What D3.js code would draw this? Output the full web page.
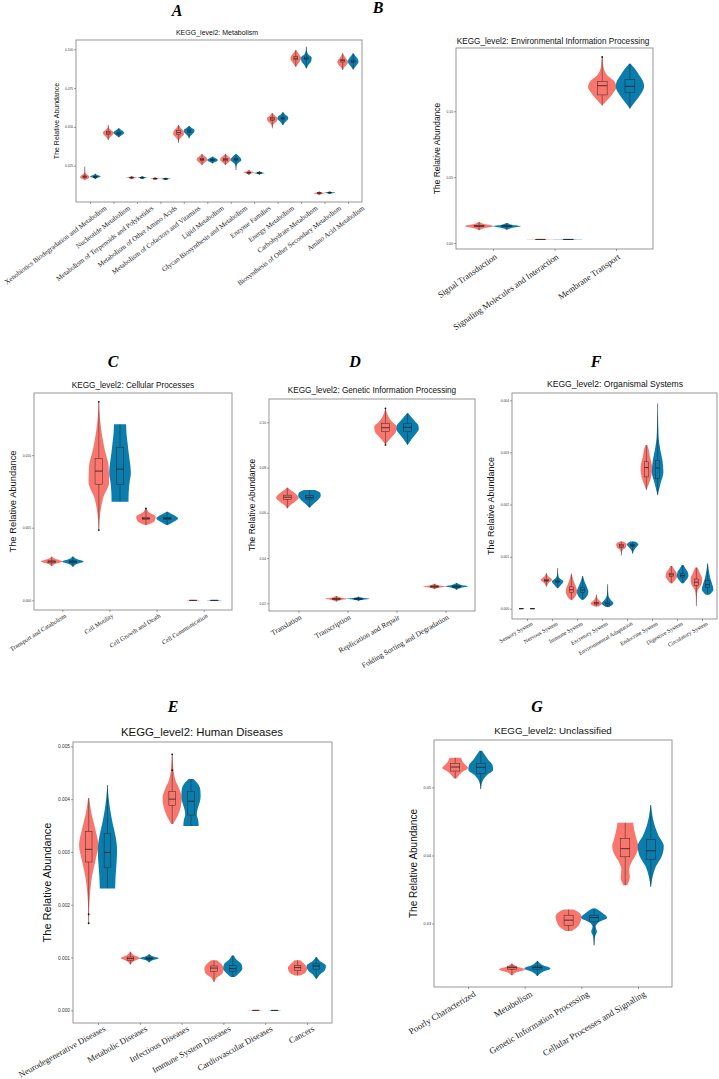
<!DOCTYPE html>
<html>
<head>
<meta charset="utf-8">
<script src="https://cdn.jsdelivr.net/npm/d3@7"></script>
<style>
body { margin: 0; background: #fff; }
svg { display: block; }
</style>
</head>
<body>
<svg id="fig" width="719" height="1079"></svg>
<script>
// violin colours (two groups)
const RED = '#F8766D', BLUE = '#0A7DAD';

// generic width profiles for the small violins (bottom -> top)
const DIAMOND = [0.03, 0.35, 1, 0.35, 0.03];
const FLAT = [0.05, 0.6, 1, 0.6, 0.05];
const ROUND = [0.05, 0.4, 0.8, 1, 0.8, 0.4, 0.05];

// each violin: [min, q1, median, q3, max]

// ---- A: Metabolism ----
const aCats = ['Xenobiotics Biodegradation and Metabolism', 'Nucleotide Metabolism',
  'Metabolism of Terpenoids and Polyketides', 'Metabolism of Other Amino Acids',
  'Metabolism of Cofactors and Vitamins', 'Lipid Metabolism', 'Glycan Biosynthesis and Metabolism',
  'Enzyme Families', 'Energy Metabolism', 'Carbohydrate Metabolism',
  'Biosynthesis of Other Secondary Metabolism', 'Amino Acid Metabolism'];
const aTicks = [0.025, 0.05, 0.075, 0.1];
const aTickLabels = ['0.025', '0.050', '0.075', '0.100'];
const aDomain = [0.0016, 0.106];
const aRed = [[0.0160, 0.0174, 0.0179, 0.0184, 0.0244], [0.0416, 0.0450, 0.0461, 0.0471, 0.0512],
  [0.0164, 0.0170, 0.0173, 0.0176, 0.0184], [0.0159, 0.0164, 0.0167, 0.0169, 0.0175],
  [0.0398, 0.0450, 0.0463, 0.0477, 0.0512], [0.0255, 0.0283, 0.0289, 0.0295, 0.0326],
  [0.0255, 0.0281, 0.0289, 0.0296, 0.0326], [0.0190, 0.0201, 0.0205, 0.0208, 0.0222],
  [0.0491, 0.0543, 0.0551, 0.0559, 0.0588], [0.0888, 0.0932, 0.0942, 0.0952, 0.0996],
  [0.0061, 0.0072, 0.0074, 0.0076, 0.0084], [0.0867, 0.0918, 0.0927, 0.0936, 0.0974]];
const aBlue = [[0.0164, 0.0175, 0.0178, 0.0182, 0.0198], [0.0433, 0.0452, 0.0459, 0.0466, 0.0491],
  [0.0165, 0.0170, 0.0173, 0.0176, 0.0182], [0.0159, 0.0163, 0.0165, 0.0167, 0.0172],
  [0.0427, 0.0465, 0.0474, 0.0481, 0.0506], [0.0265, 0.0283, 0.0287, 0.0291, 0.0308],
  [0.0222, 0.0284, 0.0291, 0.0297, 0.0326], [0.0192, 0.0200, 0.0203, 0.0206, 0.0214],
  [0.0512, 0.0547, 0.0555, 0.0562, 0.0594], [0.0877, 0.0933, 0.0942, 0.0950, 0.1017],
  [0.0068, 0.0074, 0.0076, 0.0077, 0.0084], [0.0870, 0.0915, 0.0923, 0.0931, 0.0974]];
const aRedShape = [[0.1, 0.9, 0.6, 0.15, 0.05, 0.04, 0.02], [0.03, 0.3, 0.8, 1, 0.5, 0.1, 0.03],
  DIAMOND, DIAMOND, [0.02, 0.15, 0.6, 1, 0.9, 0.4, 0.05], ROUND, ROUND, DIAMOND,
  [0.03, 0.1, 0.4, 0.9, 1, 0.5, 0.1], ROUND, DIAMOND, [0.05, 0.3, 0.8, 1, 0.7, 0.3, 0.05]];
const aBlueShape = [DIAMOND, ROUND, DIAMOND, DIAMOND, [0.05, 0.2, 0.6, 0.95, 1, 0.5, 0.05], ROUND,
  [0.02, 0.06, 0.3, 1, 0.7, 0.05], DIAMOND, [0.05, 0.3, 0.7, 1, 0.9, 0.4, 0.05],
  [0.05, 0.4, 0.9, 1, 0.3, 0.08, 0.03], DIAMOND, ROUND];
const aOut = [];

// ---- B: Environmental Information Processing ----
const bCats = ['Signal Transduction', 'Signaling Molecules and Interaction', 'Membrane Transport'];
const bTicks = [0, 0.05, 0.10];
const bTickLabels = ['0.00', '0.05', '0.10'];
const bDomain = [-0.0045, 0.148];
const bRed = [[0.0098, 0.0124, 0.0129, 0.0133, 0.0159], [0.0026, 0.0027, 0.0028, 0.0029, 0.0030],
  [0.1043, 0.1124, 0.1194, 0.1227, 0.1412]];
const bBlue = [[0.0102, 0.0124, 0.0128, 0.0132, 0.0152], [0.0026, 0.0027, 0.0028, 0.0029, 0.0030],
  [0.1020, 0.1144, 0.1189, 0.1240, 0.1361]];
const bRedShape = [DIAMOND, FLAT, [0, 0.4, 0.75, 1, 0.85, 0.35, 0.12, 0.06, 0.03]];
const bBlueShape = [DIAMOND, FLAT, [0, 0.3, 0.6, 0.87, 1, 0.9, 0.65, 0.38, 0.05]];
const bOut = [[2, 0, 0.1412]];

// ---- C: Cellular Processes ----
const cCats = ['Transport and Catabolism', 'Cell Motility', 'Cell Growth and Death', 'Cell Communication'];
const cTicks = [0, 0.005, 0.010];
const cTickLabels = ['0.000', '0.005', '0.010'];
const cDomain = [-0.000667, 0.01428];
const cRed = [[0.00236, 0.00258, 0.00266, 0.00272, 0.00300], [0.00484, 0.00800, 0.00890, 0.00977, 0.01367],
  [0.00518, 0.00556, 0.00564, 0.00572, 0.00633], [-0.00002, -0.00001, 0, 0.00001, 0.00002]];
const cBlue = [[0.00232, 0.00258, 0.00266, 0.00272, 0.00302], [0.00679, 0.00798, 0.00904, 0.01053, 0.01213],
  [0.00518, 0.00555, 0.00564, 0.00572, 0.00610], [-0.00002, -0.00001, 0, 0.00001, 0.00002]];
const cRedShape = [DIAMOND, [0.02, 0.12, 0.4, 0.95, 0.9, 0.55, 0.28, 0.1, 0.02],
  [0.05, 0.8, 0.9, 0.3, 0.05], FLAT];
const cBlueShape = [DIAMOND, [0.78, 0.8, 0.88, 1, 0.92, 0.8, 0.7, 0.6, 0.56], FLAT, FLAT];
const cOut = [[1, 0, 0.01367], [1, 0, 0.00484], [2, 0, 0.00633]];

// ---- D: Genetic Information Processing ----
const dCats = ['Translation', 'Transcription', 'Replication and Repair', 'Folding Sorting and Degradation'];
const dTicks = [0.02, 0.04, 0.06, 0.08, 0.10];
const dTickLabels = ['0.02', '0.04', '0.06', '0.08', '0.10'];
const dDomain = [0.0166, 0.1103];
const dRed = [[0.0620, 0.0660, 0.0669, 0.0678, 0.0711], [0.0208, 0.0216, 0.0219, 0.0222, 0.0232],
  [0.0900, 0.0959, 0.0976, 0.0996, 0.1062], [0.0263, 0.0271, 0.0274, 0.0277, 0.0286]];
const dBlue = [[0.0624, 0.0661, 0.0668, 0.0676, 0.0701], [0.0211, 0.0217, 0.0219, 0.0222, 0.0229],
  [0.0900, 0.0959, 0.0978, 0.0996, 0.1040], [0.0260, 0.0271, 0.0274, 0.0277, 0.0290]];
const dRedShape = [[0.03, 0.3, 0.7, 1, 0.8, 0.4, 0.05], DIAMOND,
  [0, 0.3, 0.65, 0.95, 1, 0.6, 0.3, 0.12, 0.02], DIAMOND];
const dBlueShape = [[0.05, 0.3, 0.6, 0.85, 1, 0.95, 0.5], DIAMOND,
  [0, 0.25, 0.5, 0.8, 1, 0.95, 0.65, 0.35, 0.05], DIAMOND];
const dOut = [[2, 0, 0.1062], [2, 0, 0.0900]];

// ---- F: Organismal Systems ----
const fCats = ['Sensory System', 'Nervous System', 'Immune System', 'Excretory System',
  'Environmental Adaptation', 'Endocrine System', 'Digestive System', 'Circulatory System'];
const fTicks = [0, 0.001, 0.002, 0.003, 0.004];
const fTickLabels = ['0.000', '0.001', '0.002', '0.003', '0.004'];
const fDomain = [-0.000197, 0.00414];
const fRed = [[-0.000004, -0.000002, 0, 0.000002, 0.000004], [0.000427, 0.000520, 0.000542, 0.000565, 0.000683],
  [0.000172, 0.000310, 0.000364, 0.000420, 0.00067], [0.000045, 0.000090, 0.000108, 0.000125, 0.000268],
  [0.00102, 0.00118, 0.001205, 0.00123, 0.00129], [0.00228, 0.00253, 0.00271, 0.00282, 0.00314],
  [0.00049, 0.00062, 0.00065, 0.00068, 0.00082], [0.00005, 0.00045, 0.00051, 0.00057, 0.00079]];
const fBlue = [[-0.000004, -0.000002, 0, 0.000002, 0.000004], [0.000396, 0.000500, 0.000523, 0.000550, 0.00078],
  [0.000172, 0.000310, 0.000360, 0.000410, 0.00063], [0.000032, 0.000070, 0.000100, 0.000130, 0.00047],
  [0.00106, 0.00120, 0.00122, 0.00124, 0.00129], [0.00218, 0.00250, 0.00270, 0.00285, 0.00394],
  [0.00049, 0.00061, 0.00064, 0.00067, 0.00084], [0.00027, 0.00041, 0.00046, 0.00054, 0.00087]];
const fRedShape = [FLAT, DIAMOND, [0.2, 0.8, 1, 0.8, 0.5, 0.25, 0.05], [0.3, 1, 0.5, 0.15, 0.05],
  [0.02, 0.06, 0.2, 0.8, 0.9, 0.3], [0.02, 0.4, 0.75, 0.95, 1, 0.85, 0.6, 0.45, 0.15],
  [0.2, 0.7, 1, 0.9, 0.5, 0.15], [0.02, 0.05, 0.1, 0.3, 0.9, 1, 0.6, 0.2]];
const fBlueShape = [FLAT, [0.1, 0.6, 1, 0.3, 0.1, 0.05, 0.02], [0.2, 0.8, 1, 0.8, 0.5, 0.25, 0.05],
  [0.3, 1, 0.5, 0.15, 0.08, 0.05, 0.02], [0.05, 0.2, 0.6, 1, 0.4],
  [0.02, 0.5, 1, 0.85, 0.45, 0.18, 0.1, 0.05, 0.02], [0.2, 0.7, 1, 0.9, 0.5, 0.15],
  [0.3, 1, 0.8, 0.5, 0.3, 0.15, 0.05]];
const fOut = [];

// ---- E: Human Diseases ----
const eCats = ['Neurodegenerative Diseases', 'Metabolic Diseases', 'Infectious Diseases',
  'Immune System Diseases', 'Cardiovascular Diseases', 'Cancers'];
const eTicks = [0, 0.001, 0.002, 0.003, 0.004, 0.005];
const eTickLabels = ['0.000', '0.001', '0.002', '0.003', '0.004', '0.005'];
const eDomain = [-0.00024, 0.005083];
const eRed = [[0.00165, 0.00281, 0.00305, 0.00339, 0.00402], [0.00087, 0.00095, 0.00098, 0.00101, 0.00111],
  [0.00353, 0.00388, 0.00400, 0.00415, 0.00485], [0.00054, 0.00074, 0.00080, 0.00084, 0.00095],
  [-0.000004, -0.000002, 0, 0.000002, 0.000004], [0.00066, 0.00075, 0.00081, 0.00085, 0.00095]];
const eBlue = [[0.00231, 0.00271, 0.00299, 0.00335, 0.00427], [0.00091, 0.00096, 0.00098, 0.00100, 0.00106],
  [0.00349, 0.00370, 0.00396, 0.00415, 0.00438], [0.00063, 0.00074, 0.00079, 0.00085, 0.00104],
  [-0.000004, -0.000002, 0, 0.000002, 0.000004], [0.00060, 0.00078, 0.00084, 0.00088, 0.00101]];
const eRedShape = [[0.02, 0.05, 0.15, 0.35, 0.7, 1, 0.7, 0.3, 0.05], DIAMOND,
  [0.1, 0.6, 0.9, 1, 0.75, 0.35, 0.15, 0.08, 0.02], [0.05, 0.3, 0.9, 1, 0.8, 0.3], FLAT,
  [0.3, 0.9, 1, 0.7, 0.3]];
const eBlueShape = [[0.8, 0.85, 0.95, 1, 0.85, 0.55, 0.3, 0.12, 0.02], DIAMOND,
  [0.8, 0.75, 0.6, 0.7, 0.9, 1, 0.98, 0.8, 0.25], [0.2, 0.7, 1, 0.9, 0.4, 0.1], FLAT,
  [0.05, 0.4, 0.9, 1, 0.4, 0.05]];
const eOut = [[0, 0, 0.00182], [0, 0, 0.00165], [2, 0, 0.00485], [2, 0, 0.00455]];

// ---- G: Unclassified ----
const gCats = ['Poorly Characterized', 'Metabolism', 'Genetic Information Processing',
  'Cellular Processes and Signaling'];
const gTicks = [0.03, 0.04, 0.05];
const gTickLabels = ['0.03', '0.04', '0.05'];
const gDomain = [0.02068, 0.05696];
const gRed = [[0.05132, 0.05240, 0.05299, 0.05353, 0.05436], [0.02240, 0.02330, 0.02353, 0.02375, 0.02412],
  [0.02892, 0.02976, 0.03050, 0.03123, 0.03206], [0.03564, 0.03980, 0.04100, 0.04250, 0.04480]];
const gBlue = [[0.04975, 0.05206, 0.05294, 0.05353, 0.05539], [0.02230, 0.02330, 0.02353, 0.02375, 0.02450],
  [0.02681, 0.03025, 0.03088, 0.03123, 0.03221], [0.03540, 0.03941, 0.04069, 0.04235, 0.04740]];
const gRedShape = [[0.1, 0.3, 0.6, 1, 0.75, 0.55, 0.45], DIAMOND,
  [0.25, 0.65, 0.85, 0.95, 1, 0.85, 0.4], [0.15, 0.35, 0.3, 0.5, 0.85, 1, 0.85, 0.7, 0.6]];
const gBlueShape = [[0.02, 0.06, 0.2, 0.5, 0.95, 0.9, 0.6, 0.35, 0.1], DIAMOND,
  [0.02, 0.04, 0.08, 0.22, 0.12, 0.35, 1, 0.65, 0.15], [0.02, 0.15, 0.4, 0.85, 1, 0.6, 0.3, 0.12, 0.02]];
const gOut = [];

// ---- layout of the seven panels ----
const panels = [
  { letter: 'A', title: 'KEGG_level2: Metabolism', cats: aCats, ticks: aTicks, tickLabels: aTickLabels,
    domain: aDomain, red: aRed, blue: aBlue, redShape: aRedShape, blueShape: aBlueShape, out: aOut,
    l: 76, t: 40, r: 362, b: 202, tx: 217, ty: 33, tfs: 7, lx: 177, ly: 10, ylx: 57, yfs: 7,
    tickFs: 3.2, xfs: 7, ang: 37, xdx: 14, gap: 3 },
  { letter: 'B', title: 'KEGG_level2: Environmental Information Processing', cats: bCats, ticks: bTicks,
    tickLabels: bTickLabels, domain: bDomain, red: bRed, blue: bBlue, redShape: bRedShape,
    blueShape: bBlueShape, out: bOut,
    l: 456, t: 48, r: 653, b: 249, tx: 553, ty: 41, tfs: 8.2, lx: 378, ly: 7, ylx: 437, yfs: 8.4,
    tickFs: 3.3, xfs: 8.7, ang: 35, xdx: 1, gap: 4 },
  { letter: 'C', title: 'KEGG_level2: Cellular Processes', cats: cCats, ticks: cTicks, tickLabels: cTickLabels,
    domain: cDomain, red: cRed, blue: cBlue, redShape: cRedShape, blueShape: cBlueShape, out: cOut,
    l: 34, t: 393, r: 232, b: 610, tx: 133, ty: 385, tfs: 8.2, lx: 113, ly: 361, ylx: 13, yfs: 9.4,
    tickFs: 3.3, xfs: 6.3, ang: 32, xdx: 2, gap: 3 },
  { letter: 'D', title: 'KEGG_level2: Genetic Information Processing', cats: dCats, ticks: dTicks,
    tickLabels: dTickLabels, domain: dDomain, red: dRed, blue: dBlue, redShape: dRedShape,
    blueShape: dBlueShape, out: dOut,
    l: 269, t: 399, r: 475, b: 611, tx: 372, ty: 390, tfs: 8.2, lx: 355, ly: 361, ylx: 252, yfs: 8.5,
    tickFs: 3.3, xfs: 7.5, ang: 30, xdx: 1, gap: 3 },
  { letter: 'F', title: 'KEGG_level2: Organismal Systems', cats: fCats, ticks: fTicks, tickLabels: fTickLabels,
    domain: fDomain, red: fRed, blue: fBlue, redShape: fRedShape, blueShape: fBlueShape, out: fOut,
    l: 512, t: 393, r: 717, b: 619, tx: 615, ty: 384, tfs: 8.6, lx: 596, ly: 361, ylx: 491, yfs: 9,
    tickFs: 3.3, xfs: 5.8, ang: 30, xdx: 4, gap: 2 },
  { letter: 'E', title: 'KEGG_level2: Human Diseases', cats: eCats, ticks: eTicks, tickLabels: eTickLabels,
    domain: eDomain, red: eRed, blue: eBlue, redShape: eRedShape, blueShape: eBlueShape, out: eOut,
    l: 73, t: 742, r: 332, b: 1023, tx: 202, ty: 732, tfs: 11.4, lx: 173, ly: 706, ylx: 47, yfs: 11,
    tickFs: 4.8, xfs: 8.6, ang: 29, xdx: 5, gap: 2 },
  { letter: 'G', title: 'KEGG_level2: Unclassified', cats: gCats, ticks: gTicks, tickLabels: gTickLabels,
    domain: gDomain, red: gRed, blue: gBlue, redShape: gRedShape, blueShape: gBlueShape, out: gOut,
    l: 434, t: 740, r: 672, b: 987, tx: 553, ty: 731, tfs: 9.8, lx: 537, ly: 706, ylx: 413, yfs: 10,
    tickFs: 3.8, xfs: 9, ang: 31, xdx: 5, gap: 3 }
];

const svg = d3.select('#fig');
const SANS = 'Liberation Sans, Arial, sans-serif';
const SERIF = 'Liberation Serif, Times New Roman, serif';

function drawPanel(p) {
  const g = svg.append('g');
  const x = d3.scalePoint().domain(p.cats).range([p.l, p.r]).padding(0.6);
  const y = d3.scaleLinear().domain(p.domain).range([p.b, p.t]);
  const step = x.step();
  const half = 0.23 * step, off = 0.225 * step, bw = 0.08 * step;

  const groups = [
    { stats: p.red, shape: p.redShape, color: RED, dx: -off },
    { stats: p.blue, shape: p.blueShape, color: BLUE, dx: off }
  ];

  groups.forEach(gr => {
    gr.stats.forEach((s, i) => {
      const cx = x(p.cats[i]) + gr.dx;
      const w = gr.shape[i];
      // width profile is sampled at evenly spaced levels between min and max
      const lv = d3.scaleLinear().domain([0, w.length - 1]).range([s[0], s[4]]);
      const pts = w.map((wd, k) => [lv(k), wd]);
      const area = d3.area()
        .curve(d3.curveMonotoneY)
        .y(d => y(d[0]))
        .x0(d => cx - d[1] * half)
        .x1(d => cx + d[1] * half);
      g.append('path').attr('d', area(pts)).attr('fill', gr.color);

      g.append('line')
        .attr('x1', cx).attr('x2', cx)
        .attr('y1', y(s[0])).attr('y2', y(s[4]))
        .attr('stroke', '#222').attr('stroke-width', 0.45);
      g.append('rect')
        .attr('x', cx - bw).attr('width', 2 * bw)
        .attr('y', y(s[3])).attr('height', Math.max(0.3, y(s[1]) - y(s[3])))
        .attr('fill', gr.color)
        .attr('stroke', '#222').attr('stroke-width', 0.45);
      g.append('line')
        .attr('x1', cx - bw).attr('x2', cx + bw)
        .attr('y1', y(s[2])).attr('y2', y(s[2]))
        .attr('stroke', '#111').attr('stroke-width', 0.7);
    });
  });

  // outlier dots
  g.selectAll('circle.out')
    .data(p.out)
    .enter()
    .append('circle')
    .attr('cx', d => x(p.cats[d[0]]) + (d[1] === 0 ? -off : off))
    .attr('cy', d => y(d[2]))
    .attr('r', 0.9)
    .attr('fill', '#111');

  // frame
  g.append('rect')
    .attr('x', p.l).attr('y', p.t)
    .attr('width', p.r - p.l).attr('height', p.b - p.t)
    .attr('fill', 'none').attr('stroke', '#8c8c8c').attr('stroke-width', 0.9);

  // y axis
  const ya = g.append('g')
    .attr('transform', `translate(${p.l},0)`)
    .call(d3.axisLeft(y).tickValues(p.ticks).tickFormat((d, i) => p.tickLabels[i]).tickSize(2).tickPadding(1));
  ya.select('.domain').remove();
  ya.selectAll('line').attr('stroke', '#444').attr('stroke-width', 0.5);
  ya.selectAll('text').attr('font-family', SANS).attr('font-size', p.tickFs).attr('fill', '#333');

  // x ticks
  const xa = g.append('g')
    .attr('transform', `translate(0,${p.b})`)
    .call(d3.axisBottom(x).tickSize(2).tickFormat(''));
  xa.select('.domain').remove();
  xa.selectAll('line').attr('stroke', '#444').attr('stroke-width', 0.5);

  // x labels, rotated
  g.selectAll('text.xl')
    .data(p.cats)
    .enter()
    .append('text')
    .attr('class', 'xl')
    .attr('transform', d => `translate(${x(d) + p.xdx},${p.b + p.gap}) rotate(${-p.ang})`)
    .attr('text-anchor', 'end')
    .attr('dy', '0.72em')
    .attr('font-family', SERIF)
    .attr('font-size', p.xfs)
    .attr('fill', '#1a1a1a')
    .text(d => d);

  // y title
  g.append('text')
    .attr('transform', `translate(${p.ylx},${(p.t + p.b) / 2}) rotate(-90)`)
    .attr('text-anchor', 'middle')
    .attr('dy', '0.35em')
    .attr('font-family', SANS)
    .attr('font-size', p.yfs)
    .attr('fill', '#111')
    .text('The Relative Abundance');

  // title
  g.append('text')
    .attr('x', p.tx).attr('y', p.ty)
    .attr('text-anchor', 'middle')
    .attr('dy', '0.35em')
    .attr('font-family', SANS)
    .attr('font-size', p.tfs)
    .attr('fill', '#111')
    .text(p.title);

  // panel letter
  svg.append('text')
    .attr('x', p.lx).attr('y', p.ly)
    .attr('text-anchor', 'middle')
    .attr('dy', '0.36em')
    .attr('font-family', SERIF)
    .attr('font-style', 'italic')
    .attr('font-weight', 'bold')
    .attr('font-size', 16)
    .attr('fill', '#000')
    .text(p.letter);
}

panels.forEach(drawPanel);
</script>
</body>
</html>
